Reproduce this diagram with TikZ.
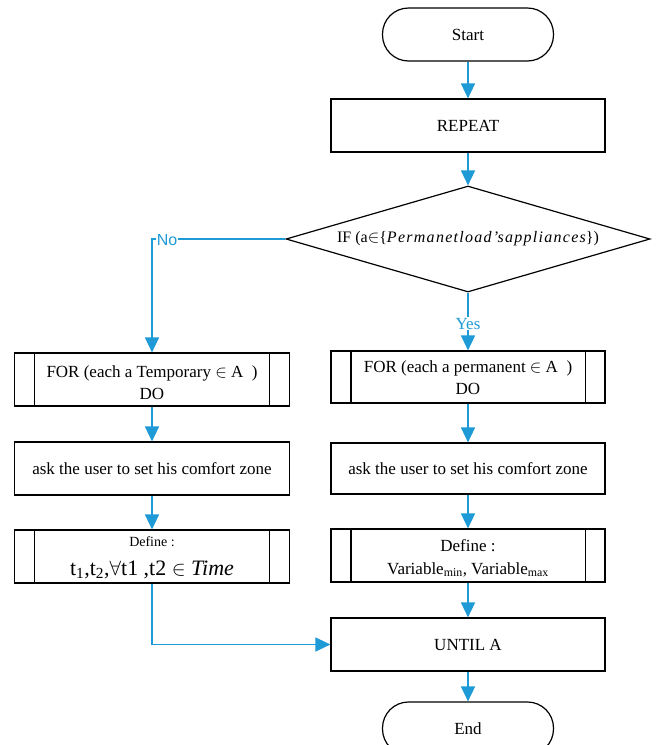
\documentclass[tikz,border=0pt]{standalone}
\usepackage{fontspec}
\setmainfont{Liberation Serif}
\newfontfamily\labsans{Liberation Sans}
\usetikzlibrary{arrows.meta,shapes.geometric}
\definecolor{flowblue}{RGB}{30,155,215}
\begin{document}
\begin{tikzpicture}[x=1pt,y=-1pt,
  box/.style={draw=black,line width=1.2pt,rectangle,minimum width=274pt,minimum height=53pt,inner sep=0pt,align=center,font=\fontsize{17}{22}\selectfont},
  term/.style={box,minimum width=171pt,rounded corners=26pt},
  decision/.style={draw=black,line width=1.2pt,diamond,minimum width=364pt,minimum height=106pt,aspect=3.43,inner sep=0pt,font=\fontsize{16}{20}\selectfont},
  flow/.style={draw=flowblue,line width=1.5pt,-{Triangle[length=15pt,width=14pt]}},
  lab/.style={text=flowblue,fill=white,inner sep=1pt,font=\fontsize{17}{18}\selectfont},
  innerline/.style={draw=black,line width=1.2pt}]
\useasboundingbox (0,0) rectangle (656,745);
\fill[white] (0,0) rectangle (656,745);
% right column
\node[term] (start) at (468,34.5) {Start};
\node[box] (repeat) at (468,125.5) {REPEAT};
\node[decision] (dia) at (468,239) {IF (a$\in$\{{\itshape\addfontfeature{LetterSpace=8}Permanetload'sappliances}\})};
\node[box,minimum height=52pt] (rfor) at (468,377) {\rule{0pt}{14pt}FOR (each a permanent $\in$ A~~)\\DO};
\node[box,minimum height=51pt] (rask) at (468,468.5) {ask the user to set his comfort zone};
\node[box] (rdef) at (468,555.5) {\rule{0pt}{17pt}Define :\\[1pt]Variable\textsubscript{min}, Variable\textsubscript{max}};
\node[box] (until) at (468,644.5) {UNTIL A};
\node[term] (end) at (468,728.5) {End};
% left column
\node[box,minimum width=275pt] (lfor) at (152,379.5) {\rule{0pt}{18pt}FOR (each a Temporary $\in$ A~~)\\DO};
\node[box,minimum width=275pt] (lask) at (152,468.5) {ask the user to set his comfort zone};
\node[box,minimum width=275pt] (ldef) at (152,556.5) {\rule{0pt}{12pt}{\fontsize{14}{16}\selectfont Define :}\\[7pt]{\fontsize{22}{24}\selectfont t\textsubscript{1},t\textsubscript{2},$\forall$t1 ,t2 $\in$ \textit{Time}}};
% predefined-process side bars
\foreach \n in {lfor,rfor,ldef,rdef}{
  \draw[innerline] ([xshift=20.5pt]\n.north west) -- ([xshift=20.5pt]\n.south west);
  \draw[innerline] ([xshift=-20.5pt]\n.north east) -- ([xshift=-20.5pt]\n.south east);
}
% connectors
\draw[flow] (start) -- (repeat);
\draw[flow] (repeat) -- (dia);
\draw[flow] (dia.south) -- (rfor.north) node[lab,pos=0.54] (yes) {Yes};
\draw[flow] (rfor) -- (rask);
\draw[flow] (rask) -- (rdef);
\draw[flow] (rdef) -- (until);
\draw[flow] (until) -- (end);
\draw[flow] (dia.west) -| (lfor.north);
\node[lab,font=\labsans\fontsize{16}{18}\selectfont] (no) at (167,240) {No};
\draw[flow] (lfor) -- (lask);
\draw[flow] (lask) -- (ldef);
\draw[flow] (ldef.south) |- (until.west);
\end{tikzpicture}
\end{document}
